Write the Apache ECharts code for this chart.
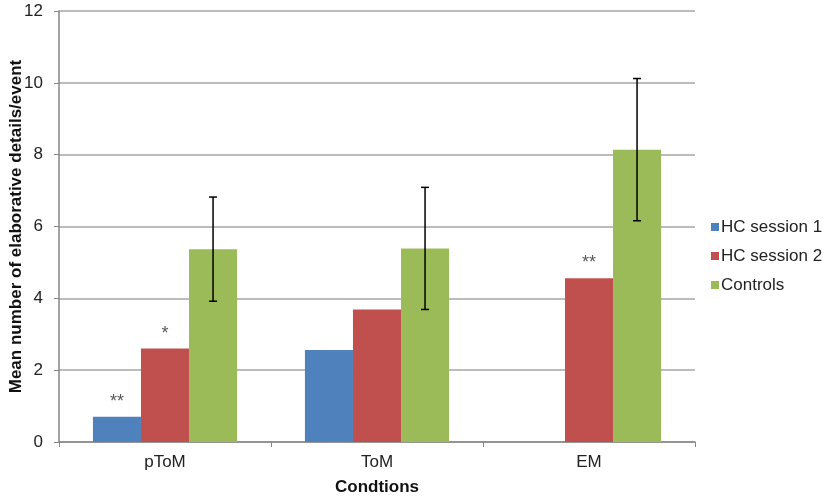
<!DOCTYPE html>
<html>
<head>
<meta charset="utf-8">
<script src="https://cdn.jsdelivr.net/npm/echarts@6/dist/echarts.min.js"></script>
<style>
  html, body { margin: 0; padding: 0; background: #fff; }
  #chart { width: 827px; height: 496px; }
</style>
</head>
<body>
<div id="chart"></div>
<script>
// data
var categories = ['pToM', 'ToM', 'EM'];
var hcSession1 = [0.70, 2.56, null];
var hcSession2 = [2.60, 3.69, 4.56];
var controls = [5.37, 5.39, 8.14];
var controlsErr = [1.45, 1.70, 1.98];
// significance marks above bars
var marks1 = ['**', '', ''];
var marks2 = ['*', '', '**'];

var catGap = 0.32;

function withMarks(values, marks) {
    return values.map(function (v, i) {
        if (!marks[i]) return v;
        return {
            value: v,
            label: {
                show: true,
                position: 'top',
                formatter: marks[i],
                color: '#595959',
                fontSize: 18,
                fontFamily: 'Liberation Sans',
                distance: 6
            }
        };
    });
}

var errData = controls.map(function (v, i) {
    return [i, v - controlsErr[i], v + controlsErr[i]];
});

var chart = echarts.init(document.getElementById('chart'));
var options = {
    backgroundColor: '#fff',
    animation: false,
    textStyle: { fontFamily: 'Liberation Sans' },
    grid: { left: 59, right: 132, top: 11, bottom: 54, outerBoundsMode: 'none', containLabel: false },
    legend: {
        orient: 'vertical',
        left: 706,
        top: 212,
        itemWidth: 8,
        itemHeight: 8,
        itemGap: 9,
        icon: 'rect',
        textStyle: { fontSize: 17, lineHeight: 20, color: '#222', padding: [0, 0, 0, -3] },
        data: ['HC session 1', 'HC session 2', 'Controls']
    },
    xAxis: {
        type: 'category',
        data: categories,
        name: 'Condtions',
        nameLocation: 'middle',
        nameGap: 37,
        nameMoveOverlap: false,
        nameTextStyle: { fontSize: 17, fontWeight: 'bold', color: '#111' },
        axisLine: { lineStyle: { color: '#868686', width: 1.5 } },
        axisTick: { show: true, length: 5, lineStyle: { color: '#868686' } },
        axisLabel: { fontSize: 17, color: '#222', margin: 12 },
        splitLine: { show: false }
    },
    yAxis: {
        type: 'value',
        min: 0,
        max: 12,
        interval: 2,
        name: 'Mean number of elaborative details/event',
        nameLocation: 'middle',
        nameGap: 34,
        nameMoveOverlap: false,
        nameRotate: 90,
        nameTextStyle: { fontSize: 17, fontWeight: 'bold', color: '#111' },
        axisLine: { show: true, lineStyle: { color: '#868686', width: 1.5 } },
        axisTick: { show: true, length: 5, lineStyle: { color: '#868686' } },
        axisLabel: { fontSize: 17, color: '#222', margin: 16 },
        splitLine: { lineStyle: { color: '#a6a6a6', width: 1.5 } }
    },
    series: [
        {
            name: 'HC session 1',
            type: 'bar',
            data: withMarks(hcSession1, marks1),
            barGap: '0%',
            barCategoryGap: (catGap * 100) + '%',
            itemStyle: { color: '#4F81BD' }
        },
        {
            name: 'HC session 2',
            type: 'bar',
            data: withMarks(hcSession2, marks2),
            itemStyle: { color: '#C0504D' }
        },
        {
            name: 'Controls',
            type: 'bar',
            data: controls,
            itemStyle: { color: '#9BBB59' }
        },
        {
            name: 'err',
            type: 'custom',
            z: 10,
            data: errData,
            renderItem: function (params, api) {
                var band = api.size([1, 0])[0];
                var bw = band * (1 - catGap) / 3;
                var lo = api.coord([api.value(0), api.value(1)]);
                var hi = api.coord([api.value(0), api.value(2)]);
                var x = lo[0] + bw;
                var cap = 4;
                var style = { stroke: '#000', lineWidth: 1.5 };
                return {
                    type: 'group',
                    children: [
                        { type: 'line', shape: { x1: x, y1: hi[1], x2: x, y2: lo[1] }, style: style },
                        { type: 'line', shape: { x1: x - cap, y1: hi[1], x2: x + cap, y2: hi[1] }, style: style },
                        { type: 'line', shape: { x1: x - cap, y1: lo[1], x2: x + cap, y2: lo[1] }, style: style }
                    ]
                };
            }
        }
    ]
};
chart.setOption(options);
</script>
</body>
</html>
